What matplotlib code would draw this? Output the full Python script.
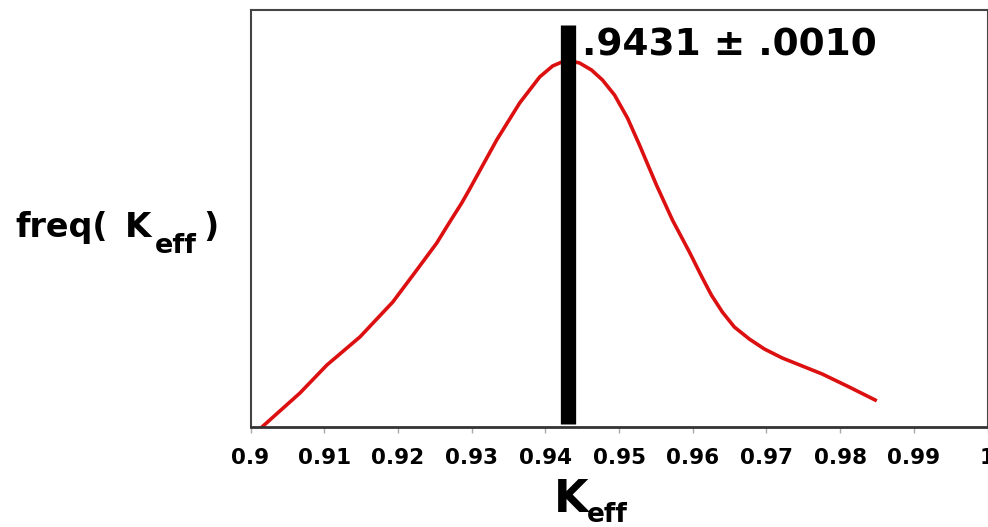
import matplotlib
matplotlib.use("Agg")
import matplotlib.pyplot as plt

# curve (K_eff, relative frequency)
k_values = [0.90156, 0.90671, 0.91037, 0.91484, 0.91931, 0.92256, 0.92527,
            0.92703, 0.92866, 0.92974, 0.93340, 0.93652, 0.93923, 0.94099,
            0.94289, 0.94465, 0.94627, 0.94776, 0.94939, 0.95115, 0.95278,
            0.95508, 0.95725, 0.95955, 0.96118, 0.96253, 0.96402, 0.96565,
            0.96768, 0.96972, 0.97215, 0.97757, 0.98123, 0.98476]
freq_values = [0.0, 0.0815, 0.1487, 0.2158, 0.2998, 0.3765, 0.4412,
               0.4916, 0.5372, 0.5707, 0.6882, 0.7770, 0.8393, 0.8657,
               0.8801, 0.8729, 0.8561, 0.8321, 0.7962, 0.7410, 0.6763,
               0.5803, 0.4964, 0.4197, 0.3621, 0.3165, 0.2758, 0.2398,
               0.2110, 0.1871, 0.1655, 0.1271, 0.0959, 0.0647]

k_mean = 0.9431
k_err = 0.0010
x_ticks = [0.9, 0.91, 0.92, 0.93, 0.94, 0.95, 0.96, 0.97, 0.98, 0.99, 1.0]
x_tick_labels = ["0.9", "0.91", "0.92", "0.93", "0.94", "0.95", "0.96",
                 "0.97", "0.98", "0.99", "1"]

W, H = 988, 527
bold = dict(fontfamily="DejaVu Sans", fontweight="bold")

fig = plt.figure(figsize=(W / 100, H / 100), dpi=100)
ax = fig.add_axes([250.5 / W, 100 / H, 737 / W, 417 / H])

ax.plot(k_values, freq_values, color="#dc1010", linewidth=2.6,
        solid_joinstyle="round")
ax.vlines(k_mean, 0.007, 0.964, color="black", linewidth=11,
          capstyle="butt")

ax.set_xlim(0.9, 1.0)
ax.set_ylim(0, 1)
ax.set_xticks(x_ticks)
ax.set_xticklabels(x_tick_labels, fontsize=15.5, **bold)
ax.set_yticks([])
ax.tick_params(axis="x", direction="out", length=4.5, width=1,
               color="#aaaaaa", pad=10.5)

for side in ["left", "top", "right"]:
    ax.spines[side].set_color("#444444")
    ax.spines[side].set_linewidth(1.5)
ax.spines["bottom"].set_color("#333333")
ax.spines["bottom"].set_linewidth(2)

# mean +- error label
fig.text(582 / W, (H - 55) / H,
         f".{int(round(k_mean * 10000))} \u00b1 .{int(round(k_err * 10000)):04d}",
         fontsize=27, va="baseline", ha="left", **bold)


def label_k_eff(x_main, x_sub, y_main, y_sub, size_main, size_sub):
    fig.text(x_main / W, (H - y_main) / H, "K", fontsize=size_main,
             va="baseline", ha="left", **bold)
    fig.text(x_sub / W, (H - y_sub) / H, "eff", fontsize=size_sub,
             va="baseline", ha="left", **bold)


# y label: freq( K_eff )
fig.text(15 / W, (H - 237) / H, "freq(", fontsize=24, va="baseline",
         ha="left", **bold)
label_k_eff(125, 155, 237, 253, 24.5, 19.5)
fig.text(203 / W, (H - 237) / H, ")", fontsize=24, va="baseline",
         ha="left", **bold)

# x label: K_eff
label_k_eff(554, 587, 512, 522, 32, 19)

fig.savefig("out.png", dpi=100)
